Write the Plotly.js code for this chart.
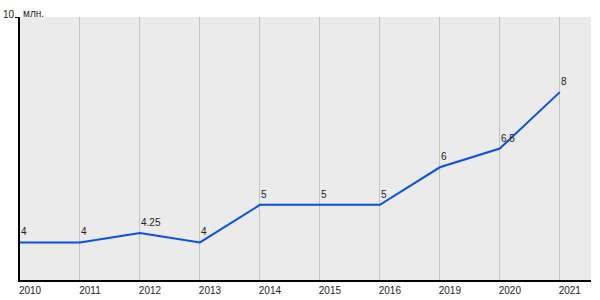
<!DOCTYPE html>
<html>
<head>
<meta charset="utf-8">
<script src="https://cdn.plot.ly/plotly-3.0.1.min.js"></script>
<style>html,body{margin:0;padding:0;background:#fff;}#chart{width:600px;height:300px;}</style>
</head>
<body>
<div id="chart"></div>
<script>
const years = ['2010','2011','2012','2013','2014','2015','2016','2019','2020','2021'];
const values = [4, 4, 4.25, 4, 5, 5, 5, 6, 6.5, 8];
const valueLabels = ['4','4','4.25','4','5','5','5','6','6.5','8'];
const yTicks = [10];
const unitLabel = 'млн.';

const trace = {
  x: years,
  y: values,
  type: 'scatter',
  mode: 'lines',
  line: {color: '#0a50e6', width: 2},
  hoverinfo: 'none'
};

const labelAnnotations = years.map((yr, i) => ({
  x: i, y: values[i], xref: 'x', yref: 'y',
  text: valueLabels[i], showarrow: false,
  xanchor: 'left', yanchor: 'bottom', yshift: 3, xshift: -1,
  font: {size: 10, color: '#222'}
}));

const yTickAnnotations = yTicks.map(v => ({
  x: 0, xref: 'paper', y: v, yref: 'y',
  text: String(v), showarrow: false,
  xanchor: 'right', yanchor: 'middle', xshift: -3, yshift: 3,
  font: {size: 10, color: '#222'}
}));

const layout = {
  width: 600, height: 300,
  margin: {l: 20, r: 9, t: 17, b: 20},
  paper_bgcolor: '#ffffff',
  plot_bgcolor: '#ebebeb',
  showlegend: false,
  font: {family: 'Liberation Sans, Arial, sans-serif', size: 10, color: '#222'},
  xaxis: {
    type: 'category',
    range: [0, 9.52],
    showgrid: true,
    gridcolor: '#c4c4c4',
    gridwidth: 1,
    showline: true,
    linecolor: '#000',
    linewidth: 2,
    ticks: '',
    ticklabelshift: 10,
    ticklabelstandoff: 0,
    tickfont: {size: 10, color: '#222'},
    zeroline: false,
    fixedrange: true
  },
  yaxis: {
    range: [3, 10],
    tickvals: yTicks,
    showticklabels: false,
    showgrid: true,
    gridcolor: '#c4c4c4',
    showline: true,
    linecolor: '#000',
    linewidth: 2,
    ticks: 'outside',
    ticklen: 3,
    tickcolor: '#000',
    tickwidth: 1,
    zeroline: false,
    fixedrange: true
  },
  annotations: labelAnnotations.concat(yTickAnnotations, [{
    xref: 'paper', yref: 'paper', x: 0, y: 1,
    xanchor: 'left', yanchor: 'bottom', xshift: 1, yshift: -4,
    text: unitLabel, showarrow: false,
    font: {size: 10, color: '#222'}
  }])
};

Plotly.newPlot('chart', [trace], layout, {displayModeBar: false, staticPlot: true});
</script>
</body>
</html>
